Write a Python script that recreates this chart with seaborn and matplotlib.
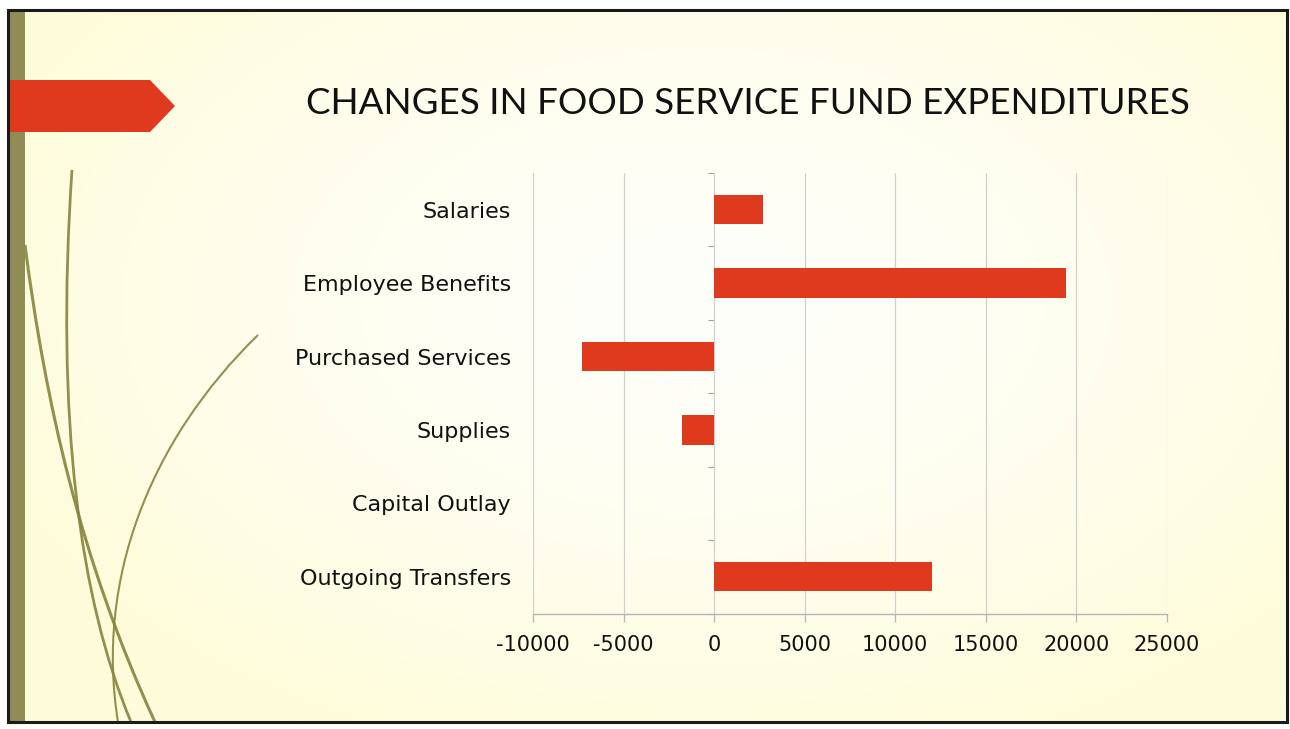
import numpy as np
import pandas as pd
import matplotlib
matplotlib.use("Agg")
import matplotlib.pyplot as plt
from matplotlib.path import Path
from matplotlib.patches import PathPatch, Polygon, Rectangle
import seaborn as sns

# Year-over-year change in each expenditure line (dollars)
categories = ["Salaries", "Employee Benefits", "Purchased Services",
              "Supplies", "Capital Outlay", "Outgoing Transfers"]
changes = [2700, 19400, -7300, -1800, 0, 12000]
x_ticks = [-10000, -5000, 0, 5000, 10000, 15000, 20000, 25000]
title = "CHANGES IN FOOD SERVICE FUND EXPENDITURES"

df = pd.DataFrame({"category": categories, "change": changes})

sns.set_theme(style="white")
plt.rcParams["font.family"] = ["DejaVu Sans"]

W, H = 1290, 729
fig = plt.figure(figsize=(W / 100, H / 100), dpi=100)
fig.patch.set_facecolor("white")

# Slide background: pale yellow with a soft white glow in the middle
bg = fig.add_axes([0, 0, 1, 1], zorder=-10)
bg.set_xlim(0, W)
bg.set_ylim(H, 0)
bg.axis("off")
yy, xx = np.mgrid[0:H, 0:W]
d = np.sqrt(((xx - 700) / 760.0) ** 2 + ((yy - 300) / 480.0) ** 2)
t = np.clip(d, 0, 1) ** 1.6
edge = np.array([254, 252, 218]) / 255.0
centre = np.array([255, 255, 250]) / 255.0
img = centre[None, None, :] * (1 - t[..., None]) + edge[None, None, :] * t[..., None]
bg.imshow(img, extent=[8, 1287, 722, 10], aspect="auto", zorder=0)

# Slide frame
bg.add_patch(Rectangle((8, 10), 1279, 712, fill=False, edgecolor="#1a1a1a", lw=2.2, zorder=5))
# Olive stripe on the left edge
bg.add_patch(Rectangle((10, 11), 15, 710, facecolor="#8f8c55", edgecolor="none", zorder=3))

# Decorative olive strands
olive = "#86843f"
strands = [
    ([(25, 245), (45, 400), (80, 560), (155, 722)], 2.2),
    ([(72, 170), (55, 420), (80, 600), (131, 722)], 2.0),
    ([(258, 335), (150, 440), (95, 580), (118, 722)], 1.5),
]
for pts, lw in strands:
    path = Path(pts, [Path.MOVETO, Path.CURVE4, Path.CURVE4, Path.CURVE4])
    bg.add_patch(PathPatch(path, facecolor="none", edgecolor=olive, lw=lw, alpha=0.9, zorder=2))

# Red arrow banner
bg.add_patch(Polygon([(10, 80), (150, 80), (175, 106), (150, 132), (10, 132)],
                     closed=True, facecolor="#e03a1e", edgecolor="none", zorder=4))

# Title
bg.text(748, 103, title, ha="center", va="center", fontsize=26.5,
        family=["Lato", "DejaVu Sans"], fontweight="normal", color="#111111", zorder=6)

# Bar chart
ax = fig.add_axes([533 / W, 1 - 613.5 / H, 634 / W, 440.5 / H])
ax.patch.set_alpha(0)
sns.barplot(data=df, x="change", y="category", orient="h", color="#e03a1e",
            saturation=1, width=0.4, linewidth=0, ax=ax)
ax.set_xlim(x_ticks[0], x_ticks[-1])
ax.set_xticks(x_ticks)
ax.set_xticklabels([str(v) for v in x_ticks])
ax.set_xlabel("")
ax.set_ylabel("")
ax.xaxis.grid(True, color="#d0d0d0", lw=0.9)
ax.set_axisbelow(True)
for s in ["top", "right", "left"]:
    ax.spines[s].set_visible(False)
ax.spines["bottom"].set_color("#b5b5b5")
ax.spines["bottom"].set_linewidth(1.0)
ax.tick_params(axis="x", which="major", length=5.5, width=0.9, color="#b5b5b5",
               labelsize=15, labelcolor="#111111", pad=10, bottom=True)
ax.tick_params(axis="y", length=0, labelsize=16, labelcolor="#111111", pad=16)

# Category axis crossing at zero, with boundary ticks between bars
zero_pos = (0 - x_ticks[0]) / (x_ticks[-1] - x_ticks[0])
sec = ax.secondary_yaxis(zero_pos)
sec.spines["left"].set_visible(False)
sec.set_yticks(np.arange(-0.5, len(categories), 1.0))
sec.set_yticklabels([])
sec.tick_params(axis="y", length=4, width=0.8, color="#a0a0a0", direction="out")

fig.savefig("out.png", dpi=100)
